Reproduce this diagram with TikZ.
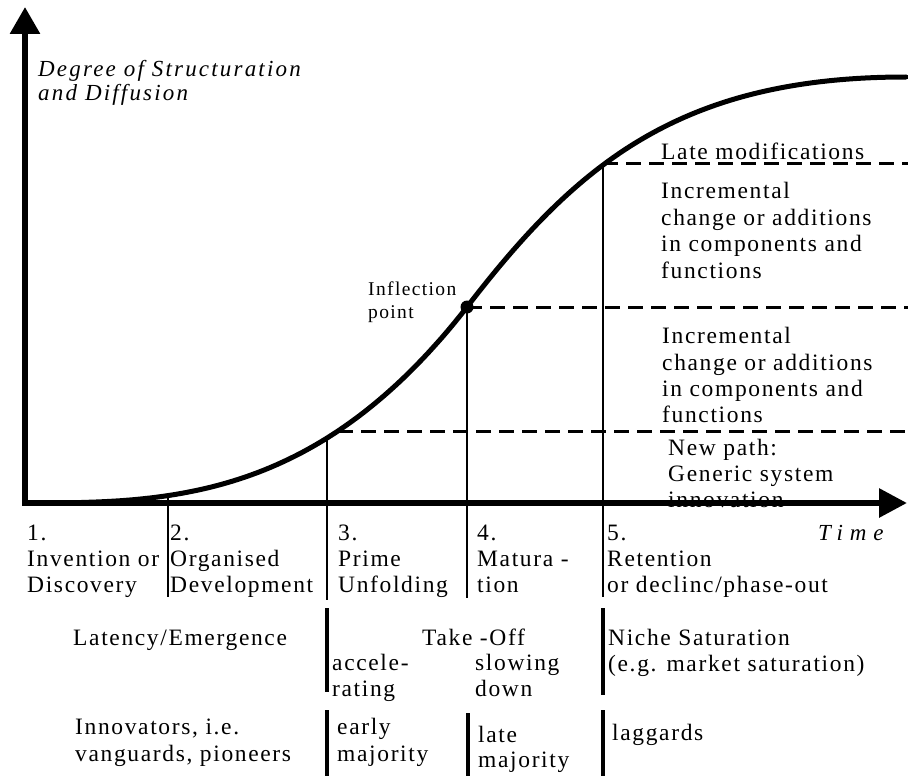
\documentclass[tikz,border=0pt]{standalone}
\usepackage{fontspec}
\setmainfont{Liberation Serif}[LetterSpace=7]
\usetikzlibrary{arrows.meta}
\begin{document}
\begin{tikzpicture}[x=1pt,y=-1pt,
  txt/.style={inner sep=0pt, anchor=base west, font=\fontsize{23.5}{26}\selectfont},
  itxt/.style={inner sep=0pt, anchor=base west, font=\fontsize{23}{26}\selectfont\itshape\addfontfeature{LetterSpace=9.5}},
  smalltxt/.style={inner sep=0pt, anchor=base west, font=\fontsize{19.5}{22}\selectfont},
  axisline/.style={line width=6pt, line join=miter,
    {Triangle[length=27pt,width=29pt]}-{Triangle[length=28pt,width=28pt]}},
  curveline/.style={line width=5pt, line cap=round, line join=round},
  vline/.style={line width=2.8pt},
  rowsep/.style={line width=4pt},
  dashline/.style={line width=3pt, dash pattern=on 15pt off 8pt}]
\useasboundingbox (0,0) rectangle (908,776);

% ---- right-hand explanatory texts (drawn before axis) ----
\node[txt] (late) at (661,159) {Late modifications};
\node[txt] (inca1) at (661,198.5) {Incremental};
\node[txt] (inca2) at (661,225) {change or additions};
\node[txt] (inca3) at (661,251.5) {in components and};
\node[txt] (inca4) at (661,278) {functions};
\node[txt] (incb1) at (662,343) {Incremental};
\node[txt] (incb2) at (662,370) {change or additions};
\node[txt] (incb3) at (662,396) {in components and};
\node[txt] (incb4) at (662,422) {functions};
\node[txt] (np1) at (668,455) {New path:};
\node[txt] (np2) at (668,481) {Generic system};
\node[txt] (np3) at (668,507) {innovation};

% ---- axis labels ----
\node[itxt] (ylab1) at (38,77) {Degree of Structuration};
\node[itxt] (ylab2) at (38,100) {and Diffusion};
\node[itxt, font=\fontsize{23}{26}\selectfont\itshape\addfontfeature{LetterSpace=30}] (xlab) at (818,540) {Time};

% ---- key coordinates ----
\coordinate (ytip) at (25,7);
\coordinate (xtip) at (907,503);
\coordinate (c2) at (168,495.6);
\coordinate (c3) at (327,438);
\coordinate (c3d) at (338,431);
\coordinate (c4) at (467,307);
\coordinate (c4a) at (577,164);
\coordinate (c4b) at (680,77);
\coordinate (ctop) at (906,77);
\coordinate (c5) at (603,163);
\coordinate (b2) at (168,597);
\coordinate (b3) at (327,600);
\coordinate (b4) at (467,598);
\coordinate (b5) at (603,597);
\coordinate (e1) at (908,163);
\coordinate (e2) at (908,307);
\coordinate (e3) at (908,431);

% ---- dashed levels ----
\draw[dashline] (c5) -- (e1);
\draw[dashline] (c4) -- (e2);
\draw[dashline] (c3d) -- (e3);

% ---- phase boundaries ----
\draw[vline] (c2) -- (b2);
\draw[vline] (c3) -- (b3);
\draw[vline] (c4) -- (b4);
\draw[vline] (c5) -- (b5);

% ---- axes ----
\draw[axisline] (ytip) |- (xtip);

% ---- S-curve ----
\draw[curveline] (25,503)
  -- plot[domain=0.01:1, samples=70, variable=\u] ({25+442*\u},{503-196*(\u)^2.9})
  .. controls (c4a) and (c4b) .. (ctop);
\fill (c4) circle (6.5pt);

% ---- inflection label ----
\node[smalltxt] (infl1) at (368,295) {Inflection};
\node[smalltxt] (infl2) at (368,318) {point};

% ---- phase names ----
\node[txt] (p1a) at (27,540) {1.};
\node[txt] (p1b) at (27,566) {Invention or};
\node[txt] (p1c) at (27,592) {Discovery};
\node[txt] (p2a) at (170,540) {2.};
\node[txt] (p2b) at (170,566) {Organised};
\node[txt] (p2c) at (170,592) {Development};
\node[txt] (p3a) at (338,540) {3.};
\node[txt] (p3b) at (338,566) {Prime};
\node[txt] (p3c) at (338,592) {Unfolding};
\node[txt] (p4a) at (477,540) {4.};
\node[txt] (p4b) at (477,566) {Matura -};
\node[txt] (p4c) at (477,592) {tion};
\node[txt] (p5a) at (607,540) {5.};
\node[txt] (p5b) at (607,566) {Retention};
\node[txt] (p5c) at (607,592) {or declinc/phase-out};

% ---- second row ----
\coordinate (r2a) at (327,608); \coordinate (r2b) at (327,692);
\coordinate (r2c) at (603,608); \coordinate (r2d) at (603,695);
\draw[rowsep] (r2a) -- (r2b);
\draw[rowsep] (r2c) -- (r2d);
\node[txt] (lat) at (73,645) {Latency/Emergence};
\node[txt] (take) at (422,645) {Take -Off};
\node[txt] (acc1) at (332,670) {accele-};
\node[txt] (acc2) at (332,696) {rating};
\node[txt] (slow1) at (475,670) {slowing};
\node[txt] (slow2) at (475,696) {down};
\node[txt] (niche1) at (608,645) {Niche Saturation};
\node[txt] (niche2) at (608,671) {(e.g. market saturation)};

% ---- third row ----
\coordinate (r3a) at (327,710); \coordinate (r3b) at (327,776);
\coordinate (r3c) at (468,713); \coordinate (r3d) at (468,776);
\coordinate (r3e) at (603,710); \coordinate (r3f) at (603,776);
\draw[rowsep] (r3a) -- (r3b);
\draw[rowsep] (r3c) -- (r3d);
\draw[rowsep] (r3e) -- (r3f);
\node[txt] (inn1) at (75,734) {Innovators, i.e.};
\node[txt] (inn2) at (75,761) {vanguards, pioneers};
\node[txt] (early1) at (337,734) {early};
\node[txt] (early2) at (337,761) {majority};
\node[txt] (late1) at (478,742) {late};
\node[txt] (late2) at (478,767) {majority};
\node[txt] (lagg) at (612,740) {laggards};
\end{tikzpicture}
\end{document}
